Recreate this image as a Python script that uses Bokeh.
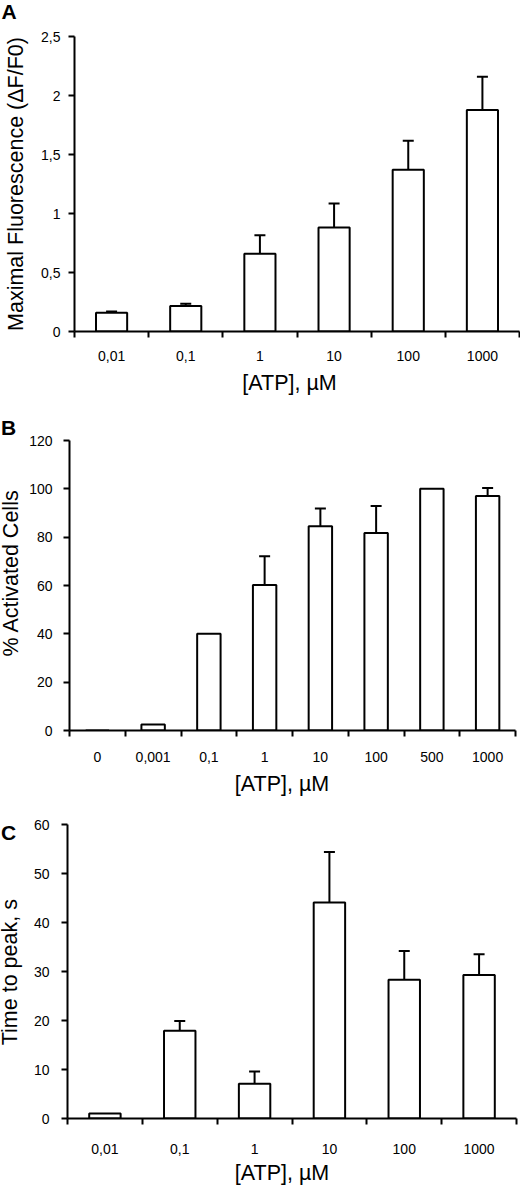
from bokeh.plotting import figure
from bokeh.layouts import column, row
from bokeh.models import Range1d, FixedTicker, Whisker, TeeHead, ColumnDataSource, Label
from bokeh.embed import file_html
from bokeh.resources import INLINE

FONT = "Liberation Sans"

# ---------------- data ----------------
a_labels = ["0,01", "0,1", "1", "10", "100", "1000"]
a_values = [0.158, 0.217, 0.659, 0.881, 1.371, 1.878]
a_errors = [0.012, 0.019, 0.157, 0.203, 0.245, 0.281]
a_yticks = [0, 0.5, 1, 1.5, 2, 2.5]
a_ytick_labels = ["0", "0,5", "1", "1,5", "2", "2,5"]

b_labels = ["0", "0,001", "0,1", "1", "10", "100", "500", "1000"]
b_values = [0, 2.5, 40, 60.2, 84.5, 81.7, 100, 97]
b_errors = [0, 0, 0, 11.9, 7.4, 11.2, 0, 3.3]
b_yticks = [0, 20, 40, 60, 80, 100, 120]
b_ytick_labels = ["0", "20", "40", "60", "80", "100", "120"]

c_labels = ["0,01", "0,1", "1", "10", "100", "1000"]
c_values = [1.0, 17.9, 7.1, 44.1, 28.3, 29.3]
c_errors = [0, 2.0, 2.5, 10.3, 5.9, 4.2]
c_yticks = [0, 10, 20, 30, 40, 50, 60]
c_ytick_labels = ["0", "10", "20", "30", "40", "50", "60"]

x_title = "[ATP], µM"
W = 520


def strip(width, page_top, page_bottom, b_top=0, b_bottom=0):
    """Text-only figure; its data coordinates are page pixels (y grows downward)."""
    h = page_bottom - page_top
    s = figure(width=width, height=h, output_backend="svg",
               toolbar_location=None, tools="",
               x_range=Range1d(0, width),
               y_range=Range1d(page_bottom - b_bottom, page_top + b_top),
               x_axis_type=None, y_axis_type=None,
               min_border_left=0, min_border_right=0,
               min_border_top=b_top, min_border_bottom=b_bottom)
    s.outline_line_color = None
    s.background_fill_color = "white"
    s.border_fill_color = "white"
    s.grid.visible = False
    return s


def put(s, x, y, text, size="21.5px", bold=False, angle=0, align="left"):
    # (x, y) = left/centre of the text, y = vertical middle of the glyphs
    s.add_layout(Label(x=x, y=y, text=text, angle=angle, angle_units="deg",
                       text_align=align, text_baseline="middle",
                       text_font=FONT, text_font_size=size,
                       text_font_style="bold" if bold else "normal",
                       text_color="black"))


def main_plot(labels, values, errors, yticks, ytick_labels,
              width, height, b_top, b_bottom, b_left, b_right,
              xl_standoff, yl_standoff):
    n = len(labels)
    centers = [i + 0.5 for i in range(n)]
    p = figure(width=width, height=height, output_backend="svg",
               toolbar_location=None, tools="",
               x_range=Range1d(0, n), y_range=Range1d(yticks[0], yticks[-1]),
               min_border_top=b_top, min_border_bottom=b_bottom,
               min_border_left=b_left, min_border_right=b_right)
    p.outline_line_color = None
    p.xgrid.visible = False
    p.ygrid.visible = False
    p.background_fill_color = "white"
    p.border_fill_color = "white"

    src = ColumnDataSource(dict(x=centers, top=values))
    p.vbar(x="x", top="top", bottom=0, width=0.42, source=src,
           fill_color="white", line_color="black", line_width=2)

    ex = [c for c, e in zip(centers, errors) if e > 0]
    ev = [v for v, e in zip(values, errors) if e > 0]
    eu = [v + e for v, e in zip(values, errors) if e > 0]
    esrc = ColumnDataSource(dict(x=ex, top=ev, upper=eu))
    p.add_layout(Whisker(source=esrc, base="x", lower="top", upper="upper",
                         dimension="height", line_color="black", line_width=2,
                         lower_head=None,
                         upper_head=TeeHead(size=11, line_width=2, line_color="black")))

    # x axis: labels at category centers, tick marks at category boundaries
    xa = p.xaxis[0]
    xa.ticker = FixedTicker(ticks=centers, minor_ticks=list(range(n + 1)))
    xa.major_label_overrides = {c: l for c, l in zip(centers, labels)}
    xa.major_tick_in = 0
    xa.major_tick_out = 0
    xa.minor_tick_in = 0
    xa.minor_tick_out = 6
    xa.minor_tick_line_width = 2
    xa.minor_tick_line_color = "black"
    xa.axis_line_width = 2
    xa.axis_line_color = "black"
    xa.major_label_text_font = FONT
    xa.major_label_text_font_size = "14px"
    xa.major_label_text_color = "black"
    xa.major_label_standoff = xl_standoff

    ya = p.yaxis[0]
    ya.ticker = FixedTicker(ticks=yticks)
    ya.major_label_overrides = {t: l for t, l in zip(yticks, ytick_labels)}
    ya.major_tick_in = 0
    ya.major_tick_out = 6
    ya.major_tick_line_width = 2
    ya.major_tick_line_color = "black"
    ya.minor_tick_line_color = None
    ya.axis_line_width = 2
    ya.axis_line_color = "black"
    ya.major_label_text_font = FONT
    ya.major_label_text_font_size = "14px"
    ya.major_label_text_color = "black"
    ya.major_label_standoff = yl_standoff
    return p


def plot_row(labels, values, errors, yticks, ytick_labels, ytitle,
             page_top, page_bottom, frame_top, frame_bottom, frame_left, frame_right,
             strip_w, xl_standoff, yl_standoff, ytitle_x, ytitle_y, extra=None):
    h = page_bottom - page_top
    bt = frame_top - page_top
    bb = page_bottom - frame_bottom
    left = strip(strip_w, page_top, page_bottom, bt, bb)
    put(left, ytitle_x, ytitle_y, ytitle, angle=90, align="center")
    if extra:
        put(left, extra[0], extra[1], extra[2], size="21px", bold=True)
    main = main_plot(labels, values, errors, yticks, ytick_labels,
                     W - strip_w, h, bt, bb, frame_left - strip_w, W - frame_right,
                     xl_standoff, yl_standoff)
    return row(left, main, spacing=0)


# --- page layout (pixel rows) ---
topA = strip(W, 0, 24)
put(topA, 1, 10.8, "A", size="21px", bold=True)

rowA = plot_row(a_labels, a_values, a_errors, a_yticks, a_ytick_labels,
                "Maximal Fluorescence (ΔF/F0)",
                24, 370, 36, 331, 74, 519, 32, 13, 8, 15.4, 183.5)

midAB = strip(W, 370, 435)
put(midAB, 289, 382, x_title, align="center")
put(midAB, 0.5, 427, "B", size="21px", bold=True)

rowB = plot_row(b_labels, b_values, b_errors, b_yticks, b_ytick_labels,
                "% Activated Cells",
                435, 770, 440, 730, 68, 515, 26, 15, 11, 10.3, 572.3)

midBC = strip(W, 770, 816)
put(midBC, 281.5, 783, x_title, align="center")

rowC = plot_row(c_labels, c_values, c_errors, c_yticks, c_ytick_labels,
                "Time to peak, s",
                816, 1160, 824, 1118, 67, 516, 28, 19, 12, 9.5, 971.7,
                extra=(0.5, 831.5, "C"))

botC = strip(W, 1160, 1185)
put(botC, 281.5, 1172.5, x_title, align="center")

layout = column(topA, rowA, midAB, rowB, midBC, rowC, botC, spacing=0)
open("out.html", "w").write(file_html(layout, INLINE))
